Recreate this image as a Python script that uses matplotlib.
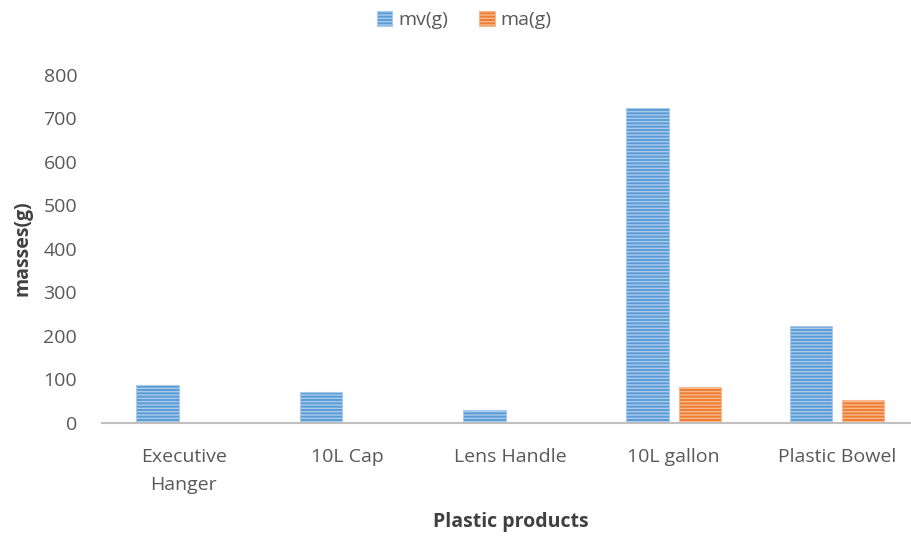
import numpy as np
import matplotlib.pyplot as plt

plt.rcParams['font.family'] = ['Open Sans', 'DejaVu Sans']

# Data
products = ['Executive\nHanger', '10L Cap', 'Lens Handle', '10L gallon', 'Plastic Bowel']
mv_g = [87, 71, 30, 724, 221]
ma_g = [0, 0, 0, 83, 53]

fig = plt.figure(figsize=(9.12, 5.37), dpi=100)
ax = fig.add_axes([0.112, 0.213, 0.8953, 0.648])

x = np.arange(len(products))
width = 0.26
offset = 0.16

ax.bar(x - offset, mv_g, width, color='#5B9BD5', edgecolor='#A8CBEC',
       hatch='-----', linewidth=0.8, label='mv(g)')
ax.bar(x + offset, ma_g, width, color='#ED7D31', edgecolor='#F6B98E',
       hatch='-----', linewidth=0.8, label='ma(g)')

ax.set_xlim(-0.5, len(products) - 0.5)
ax.set_ylim(0, 800)
ax.set_yticks(range(0, 801, 100))
ax.set_xticks(x)
ax.set_xticklabels(products, linespacing=1.75)

for side in ['top', 'right', 'left']:
    ax.spines[side].set_visible(False)
ax.spines['bottom'].set_color('#BFBFBF')
ax.spines['bottom'].set_linewidth(1.5)
ax.tick_params(axis='both', length=0, labelsize=14, labelcolor='#595959')
ax.tick_params(axis='x', pad=18)
ax.tick_params(axis='y', pad=18)

ax.set_xlabel('Plastic products', fontsize=14, fontweight='bold', color='#404040', labelpad=13)
ax.set_ylabel('masses(g)', fontsize=14, fontweight='bold', color='#404040', labelpad=8)

ax.legend(loc='center', bbox_to_anchor=(464 / 912, 1 - 20 / 537), bbox_transform=fig.transFigure,
          ncol=2, frameon=False, fontsize=14, labelcolor='#595959',
          handlelength=0.8, handleheight=0.8, columnspacing=1.6, handletextpad=0.3)

plt.savefig('out.png', dpi=100)
